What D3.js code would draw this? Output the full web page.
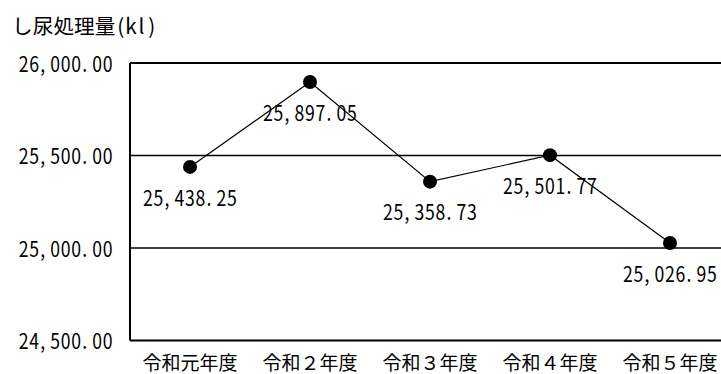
<!DOCTYPE html>
<html><head><meta charset="utf-8">
<script src="https://cdn.jsdelivr.net/npm/d3@7"></script>
<style>
html,body{margin:0;padding:0;background:#fff;}
svg{display:block;}
text{font-family:"Noto Sans CJK JP","Noto Sans",sans-serif;fill:#000;}
</style></head>
<body>
<script>
const categories = ["令和元年度","令和２年度","令和３年度","令和４年度","令和５年度"];
const values = [25438.25, 25897.05, 25358.73, 25501.77, 25026.95];
const yTicks = [24500, 25000, 25500, 26000];
const title = "し尿処理量(kl)";

const W = 721, H = 374;
const margin = {left:130, top:63, right:-9, bottom:33.5};
const svg = d3.select("body").append("svg").attr("width", W).attr("height", H);

const x = d3.scaleBand().domain(categories).range([margin.left, W - margin.right]);
const y = d3.scaleLinear().domain([24500, 26000]).range([H - margin.bottom, margin.top]);
const fmt = d3.format(",.2f");

// Draw text in fixed character cells (like a Japanese monospace Gothic font)
function cellText(parent, str, x0, yc, anchor, fs, sx) {
  const chars = Array.from(str);
  const widths = chars.map(c => (c.charCodeAt(0) < 0x2000 ? fs / 2 : fs));
  const total = d3.sum(widths);
  let start = anchor === "end" ? x0 - total : anchor === "middle" ? x0 - total / 2 : x0;
  const centers = [];
  let acc = 0;
  chars.forEach((c, i) => {
    const w = widths[i];
    const f = (c === "," || c === ".") ? 0.3 : 0.5;
    centers.push((acc + w * f) / sx);
    acc += w;
  });
  const g = parent.append("g").attr("transform", `translate(${start},${yc}) scale(${sx},1)`);
  g.append("text")
    .attr("x", centers.join(" "))
    .attr("y", 0)
    .attr("text-anchor", "middle")
    .attr("dominant-baseline", "central")
    .attr("font-size", fs)
    .text(str);
}

// gridlines
svg.append("g").selectAll("line").data(yTicks.filter(t => t > 24500))
  .join("line")
  .attr("x1", margin.left).attr("x2", W - margin.right)
  .attr("y1", d => y(d)).attr("y2", d => y(d))
  .attr("stroke", "#000").attr("stroke-width", d => d === 26000 ? 2 : 1.5);

// left axis line and bottom
svg.append("line").attr("x1", margin.left).attr("x2", margin.left)
  .attr("y1", y(26000)).attr("y2", y(24500)).attr("stroke", "#000").attr("stroke-width", 2);
svg.append("line").attr("x1", margin.left).attr("x2", W - margin.right)
  .attr("y1", y(24500)).attr("y2", y(24500)).attr("stroke", "#000").attr("stroke-width", 2);

// y tick labels
const yl = svg.append("g");
yTicks.forEach(t => cellText(yl, fmt(t), 113, y(t), "end", 21, 0.84));

// x labels
svg.append("g").selectAll("text").data(categories).join("text")
  .attr("x", d => x(d) + x.bandwidth() / 2).attr("y", 361.5)
  .attr("text-anchor", "middle").attr("dominant-baseline", "central")
  .attr("font-size", 19)
  .text(d => d);

// line
const cx = (d, i) => x(categories[i]) + x.bandwidth() / 2;
svg.append("path").datum(values)
  .attr("fill", "none").attr("stroke", "#000").attr("stroke-width", 1.2)
  .attr("d", d3.line().x((d, i) => cx(d, i)).y(d => y(d)));

svg.append("g").selectAll("circle").data(values).join("circle")
  .attr("cx", cx).attr("cy", d => y(d)).attr("r", 7).attr("fill", "#000");

// value labels
const vl = svg.append("g");
values.forEach((v, i) => cellText(vl, fmt(v), cx(v, i), y(v) + 30, "middle", 21, 0.84));

// title
cellText(svg, title, 12, 25, "start", 20.7, 1);
</script>
</body></html>
